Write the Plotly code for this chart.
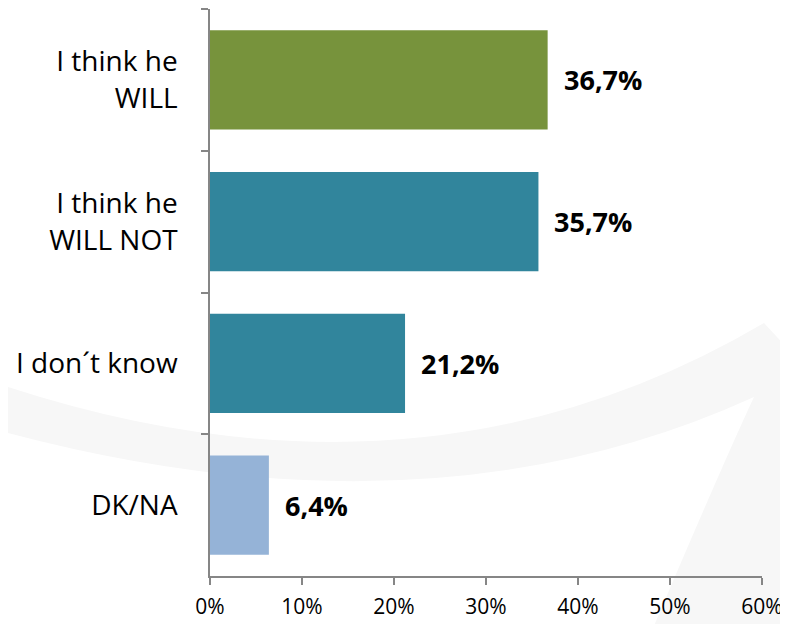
import plotly.graph_objects as go

categories = ["I think he<br>WILL", "I think he<br>WILL NOT", "I don´t know", "DK/NA"]
values = [36.7, 35.7, 21.2, 6.4]
bar_colors = ["#77933C", "#31859C", "#31859C", "#95B3D7"]
x_ticks = [0, 10, 20, 30, 40, 50, 60]
x_tick_labels = ["0%", "10%", "20%", "30%", "40%", "50%", "60%"]

# the page body adds an 8px offset, so the figure is drawn 8px smaller
OFF = 8
W, H = 788 - OFF, 624 - OFF
L, R, T, B = 210 - OFF, 26, 9 - OFF, 48
pw, ph = W - L - R, H - T - B

def px(X):
    return (X - OFF - L) / pw

def py(Y):
    return (H - B - (Y - OFF)) / ph

# faint background swoosh (decoration), defined in page-pixel space
def P(X, Y):
    return f"{px(X):.4f},{py(Y):.4f}"

swoosh = (
    f"M {P(-10, 381)} Q {P(418, 527)} {P(764, 323)} "
    f"L {P(800, 362)} L {P(800, 640)} L {P(648, 640)} "
    f"Q {P(720, 470)} {P(754, 397)} "
    f"Q {P(423, 548)} {P(-10, 428)} Z"
)

fig = go.Figure()
fig.add_trace(go.Bar(
    x=values,
    y=categories,
    orientation="h",
    marker=dict(color=bar_colors, line=dict(width=0)),
    width=0.70,
    hoverinfo="skip",
))

for c, v in zip(categories, values):
    fig.add_annotation(
        x=v, y=c, xref="x", yref="y",
        text=f"<b>{v:.1f}".replace(".", ",") + "%</b>",
        showarrow=False, xanchor="left", yanchor="middle",
        xshift=14,
        font=dict(family="Open Sans", size=27, color="#000000"),
    )

fig.add_shape(type="path", path=swoosh, xref="paper", yref="paper",
              fillcolor="#f7f7f7", line=dict(width=0), layer="below")

fig.update_layout(
    width=W, height=H,
    margin=dict(l=L, r=R, t=T, b=B, pad=0, autoexpand=False),
    paper_bgcolor="white", plot_bgcolor="rgba(0,0,0,0)",
    showlegend=False,
    bargap=0.3,
    font=dict(family="Open Sans", color="#000000"),
)
fig.update_xaxes(
    range=[0, 60], tickvals=x_ticks, ticktext=x_tick_labels,
    showgrid=False, zeroline=False, automargin=False,
    showline=True, linecolor="#868686", linewidth=1.5,
    ticks="outside", ticklen=7, tickcolor="#868686", tickwidth=1.5,
    ticklabelstandoff=4,
    tickfont=dict(family="Open Sans", size=21, color="#000000"),
    fixedrange=True,
)
fig.update_yaxes(
    autorange="reversed", range=[3.5, -0.5],
    categoryorder="array", categoryarray=categories,
    showgrid=False, zeroline=False, automargin=False,
    showline=True, linecolor="#868686", linewidth=1.5,
    ticks="outside", ticklen=7, tickcolor="#868686", tickwidth=1.5,
    tickson="boundaries",
    ticklabelstandoff=25,
    tickfont=dict(family="Open Sans", size=28, color="#000000"),
    fixedrange=True,
)

fig.write_html("out.html", config={"displayModeBar": False})
